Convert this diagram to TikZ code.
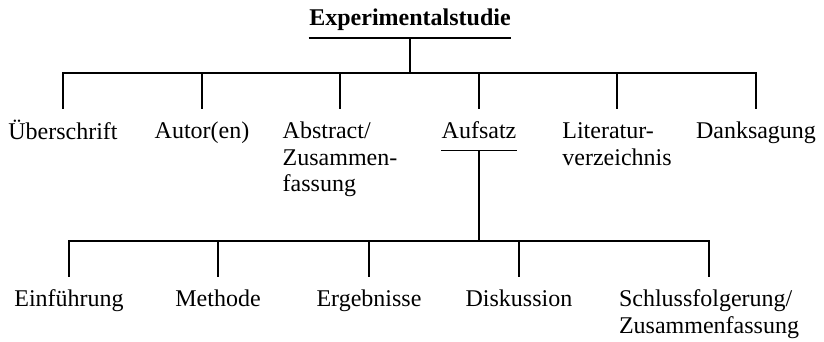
\documentclass[tikz,border=0pt]{standalone}
\usepackage{fontspec}
\setmainfont{Liberation Serif}
\usepackage{tikz}
\newcommand{\lineup}{\rule{0pt}{9.3pt}}

\begin{document}
\begin{tikzpicture}[x=0.5pt,y=-0.5pt,line width=0.6pt]
        \tikzstyle{every node}+=[inner xsep=0pt, font=\fontsize{12}{13.25}\selectfont]
        \tikzstyle{part}=[anchor=north, align=left, inner ysep=5.2pt, execute at begin node={\lineup}]
        \useasboundingbox (0,0) rectangle (824,342);
        \node [anchor=south, inner ysep=3.5pt, text depth=2.5pt, font=\fontsize{12}{13.25}\selectfont\bfseries] (studie) at (410,38) {Experimentalstudie};
        \draw [black] (studie.south west) -- (studie.south east);
        \node [part] (ueber) at (63,109) {Überschrift};
        \node [part] (autor) at (202,109) {Autor(en)};
        \node [part] (abstract) at (340,109) {\lineup Abstract/\\Zusammen-\\fassung};
        \node [part, text depth=0.5pt] (aufsatz) at (479,109) {Aufsatz};
        \node [part] (literatur) at (617,109) {\lineup Literatur-\\verzeichnis};
        \node [part] (dank) at (756,109) {Danksagung};
        \draw [black] (aufsatz.south west) -- (aufsatz.south east);
        \coordinate (bar1) at (410,73);
        \draw [black] (studie.south) -- (bar1);
        \draw [black] (bar1) -| (ueber.north);
        \draw [black] (bar1) -| (autor.north);
        \draw [black] (bar1) -| (abstract.north);
        \draw [black] (bar1) -| (aufsatz.north);
        \draw [black] (bar1) -| (literatur.north);
        \draw [black] (bar1) -| (dank.north);
        \node [part] (einf) at (69,277) {Einführung};
        \node [part] (methode) at (218,277) {Methode};
        \node [part] (ergebnisse) at (369,277) {Ergebnisse};
        \node [part] (diskussion) at (519,277) {Diskussion};
        \node [part] (schluss) at (709,277) {\lineup Schlussfolgerung/\\Zusammenfassung};
        \coordinate (bar2) at (479,241);
        \draw [black] (aufsatz.south) -- (bar2);
        \draw [black] (bar2) -| (einf.north);
        \draw [black] (bar2) -| (methode.north);
        \draw [black] (bar2) -| (ergebnisse.north);
        \draw [black] (bar2) -| (diskussion.north);
        \draw [black] (bar2) -| (schluss.north);
\end{tikzpicture}
\end{document}
